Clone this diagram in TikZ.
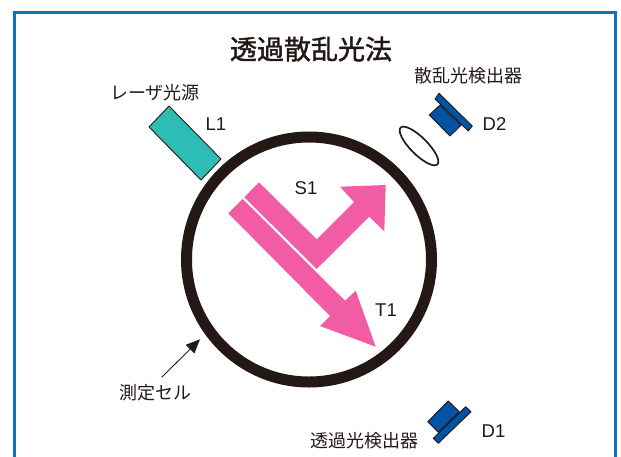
\documentclass[tikz,border=0pt]{standalone}
\usepackage{fontspec}
\setmainfont{Liberation Sans}
\newfontfamily\cjk{Noto Sans CJK JP}
\newfontfamily\cjkt[FakeBold=1.6]{Noto Sans CJK JP}
\usetikzlibrary{shapes.geometric,arrows.meta}
\definecolor{inkc}{HTML}{231815}
\definecolor{framec}{HTML}{0B74BC}
\definecolor{tealc}{HTML}{2DBDB4}
\definecolor{bluec}{HTML}{0053A5}
\definecolor{pinkc}{HTML}{F15CA5}
\tikzset{
  lbl/.style={text=inkc,inner sep=0pt,font=\fontsize{18.5}{18.5}\selectfont},
  jlbl/.style={text=inkc,inner sep=0pt,font=\cjk\fontsize{18}{18}\selectfont},
  det/.style={draw=inkc,fill=bluec,line width=0.9pt,line join=round},
  beam/.style={fill=pinkc,draw=none},
}
\begin{document}
\begin{tikzpicture}[x=1pt,y=-1pt]
\useasboundingbox (0,0) rectangle (621,456);
\begin{scope}
\clip (0,0) rectangle (621,456);
\draw[framec,line width=3pt] (14,12.5) -- (615,12.5) -- (615,470) -- (14,470) -- cycle;
\end{scope}
\node[text=inkc,inner sep=0pt,font=\cjkt\fontsize{27}{27}\selectfont] (title) at (311,49) {透過散乱光法};
% cell
\node[circle,draw=inkc,line width=11pt,minimum size=245pt,inner sep=0pt] (cell) at (309,259.5) {};
% laser
\draw[draw=inkc,fill=tealc,line width=0.9pt,line join=round] (169,106) -- (221,159) -- (201,180) -- (149,127) -- cycle;
\node[jlbl] (laser) at (155,93) {レーザ光源};
\node[lbl] (L1) at (216,124) {L1};
% beams
\fill[beam] (259,182.3) -- (316.7,239.3) -- (354,202) -- (340,186.7) -- (385.7,185) -- (384.3,231.3) -- (369.3,216.7) -- (316.7,269) -- (244.3,197.3) -- cycle;
\fill[beam] (228.3,213.3) -- (242.7,199) -- (345,300.7) -- (355.7,290.7) -- (375.7,346.7) -- (320,326) -- (330,316) -- cycle;
\node[lbl] (S1) at (306,188) {S1};
\node[lbl] (T1) at (386,310) {T1};
% D2
\node[ellipse,draw=inkc,line width=1.7pt,fill=none,minimum width=52pt,minimum height=17pt,inner sep=0pt,rotate=-45] (lens) at (419,146) {};
\draw[det] (429.3,115) -- (450,136) -- (461,125.3) -- (440,105) -- cycle;
\draw[det] (439,93.3) -- (472.3,126) -- (468.3,131) -- (435,99) -- cycle;
\node[jlbl] (d2lab) at (468,76) {散乱光検出器};
\node[lbl] (D2) at (494.5,124) {D2};
% D1
\draw[det] (448.3,401) -- (427.7,421.7) -- (438.3,432.3) -- (459.3,411.7) -- cycle;
\draw[det] (465.7,406.7) -- (471,411.7) -- (438.3,443.3) -- (433.3,438.3) -- cycle;
\node[jlbl] (d1lab) at (364,441) {透過光検出器};
\node[lbl] (D1) at (493.5,431) {D1};
% cell label
\node[jlbl] (celllab) at (155,393) {測定セル};
\coordinate (tail) at (161.7,377.3);
\coordinate (tip) at (200,339.3);
\draw[inkc,line width=0.9pt,-{Triangle[length=14pt,width=12pt]}] (tail) -- (tip);
\end{tikzpicture}
\end{document}
